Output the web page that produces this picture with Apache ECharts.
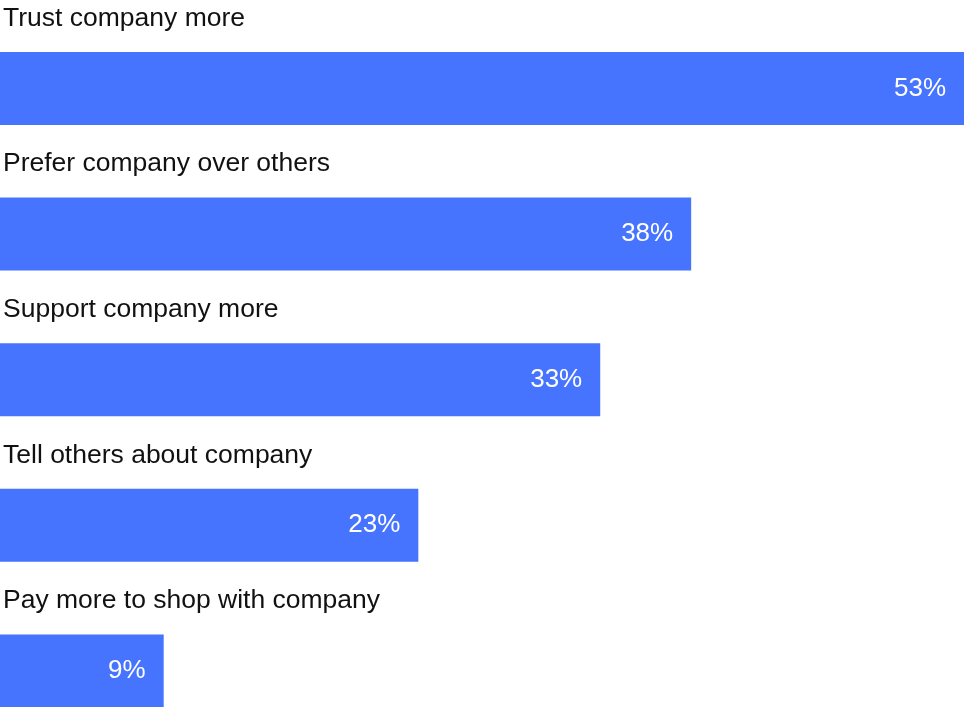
<!DOCTYPE html>
<html>
<head>
<meta charset="utf-8">
<script src="https://cdn.jsdelivr.net/npm/echarts@6/dist/echarts.min.js"></script>
<style>
html,body{margin:0;padding:0;background:#fff;}
#chart{width:964px;height:707px;}
</style>
</head>
<body>
<div id="chart"></div>
<script>
const categories = ["Trust company more", "Prefer company over others", "Support company more", "Tell others about company", "Pay more to shop with company"];
const values = [53, 38, 33, 23, 9];

const chart = echarts.init(document.getElementById('chart'));
const font = '"Liberation Sans", Arial, Helvetica, sans-serif';
chart.setOption({
  animation: false,
  grid: {left: 0, right: 0, top: 15.7, height: 728, containLabel: false, outerBoundsMode: 'none'},
  xAxis: {type: 'value', min: 0, max: 53, show: false},
  yAxis: {type: 'category', data: categories, inverse: true, show: false},
  series: [
    {
      type: 'bar',
      data: values,
      barWidth: 73,
      itemStyle: {color: '#4674FF'},
      label: {
        show: true,
        position: 'insideRight',
        distance: 18,
        color: '#ffffff',
        fontFamily: font,
        fontSize: 26,
        formatter: p => p.value + '%'
      }
    },
    {
      type: 'bar',
      data: values,
      barWidth: 73,
      barGap: '-100%',
      silent: true,
      itemStyle: {color: 'rgba(0,0,0,0)'},
      label: {
        show: true,
        position: [3, -47],
        align: 'left',
        verticalAlign: 'top',
        color: '#111111',
        fontFamily: font,
        fontSize: 26.5,
        formatter: p => p.name
      }
    }
  ]
});
</script>
</body>
</html>
